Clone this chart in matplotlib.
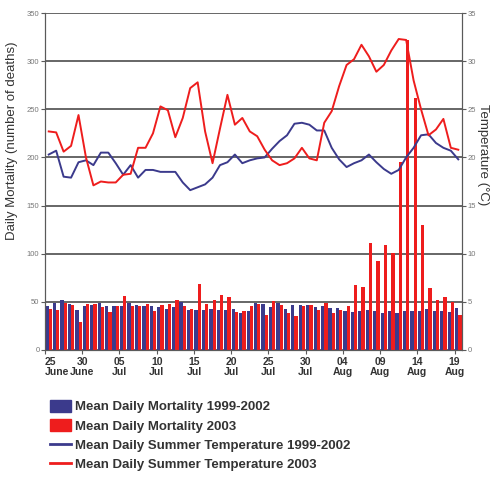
import numpy as np
import matplotlib
matplotlib.use("Agg")
from matplotlib import pyplot as plt
from matplotlib.patches import Patch
from matplotlib.lines import Line2D

plt.rcParams['font.family'] = ['Liberation Sans', 'DejaVu Sans']

# 25 June .. 19 August 2003, one value per day
mort_base = [46, 49, 52, 48, 42, 46, 47, 49, 46, 46,
             46, 49, 47, 46, 46, 45, 43, 45, 50, 42,
             42, 42, 43, 42, 42, 43, 38, 41, 49, 48,
             45, 49, 43, 47, 47, 47, 45, 46, 44, 44,
             40, 39, 41, 42, 40, 38, 40, 38, 40, 40,
             41, 43, 40, 41, 39, 44]
mort_2003 = [43, 42, 49, 47, 29, 48, 48, 45, 39, 46,
             56, 46, 46, 48, 41, 47, 48, 52, 46, 43,
             69, 48, 52, 57, 55, 39, 41, 46, 48, 36,
             51, 47, 38, 35, 46, 47, 42, 49, 38, 42,
             46, 67, 65, 111, 92, 109, 101, 195, 322, 262,
             130, 64, 52, 55, 50, 36]
temp_base = [20.3, 20.7, 18.0, 17.9, 19.5, 19.7, 19.2, 20.5, 20.5, 19.4,
             18.2, 19.2, 17.9, 18.7, 18.7, 18.5, 18.5, 18.5, 17.4, 16.6,
             16.9, 17.2, 17.9, 19.2, 19.5, 20.3, 19.4, 19.7, 19.9, 20.0,
             20.9, 21.7, 22.3, 23.5, 23.6, 23.4, 22.8, 22.8, 21.0, 19.8,
             19.0, 19.4, 19.7, 20.3, 19.5, 18.8, 18.3, 18.7, 20.0, 21.0,
             22.3, 22.4, 21.5, 21.0, 20.7, 19.8]
temp_2003 = [22.7, 22.6, 20.6, 21.2, 24.4, 20.0, 17.1, 17.5, 17.4, 17.4,
             18.2, 18.3, 21.0, 21.0, 22.5, 25.3, 24.9, 22.1, 24.1, 27.2,
             27.8, 22.7, 19.4, 23.0, 26.5, 23.4, 24.1, 22.7, 22.2, 20.8,
             19.7, 19.2, 19.4, 19.9, 21.0, 19.9, 19.7, 23.6, 24.8, 27.4,
             29.6, 30.2, 31.7, 30.5, 28.9, 29.6, 31.1, 32.3, 32.2, 28.0,
             25.0, 22.3, 22.9, 24.0, 21.0, 20.8]

tick_days = [0, 5, 10, 15, 20, 25, 30, 35, 40, 45, 50, 55]
tick_labels = ["25\nJune", "30\nJune", "05\nJul", "10\nJul", "15\nJul", "20\nJul",
               "25\nJul", "30\nJul", "04\nAug", "09\nAug", "14\nAug", "19\nAug"]

blue = "#3b3a8c"
red = "#ee1d1d"
grid_c = "#5a5a5a"
txt_c = "#333333"

days = np.arange(len(mort_base))

fig = plt.figure(figsize=(4.91, 4.80), dpi=100)
ax = fig.add_axes([45 / 491, 1 - 350 / 480, 417 / 491, 337 / 480])

ax.bar(days - 0.22, mort_base, width=0.44, color=blue, zorder=2)
ax.bar(days + 0.22, mort_2003, width=0.44, color=red, zorder=2)

ax.set_xlim(-0.5, 55.5)
ax.set_ylim(0, 350)
ax.set_yticks(range(0, 351, 50))
ax.yaxis.grid(True, color=grid_c, lw=1.3, zorder=1)
ax.set_axisbelow(True)
ax.set_xticks([d - 0.5 for d in tick_days])
ax.set_xticklabels(tick_labels, fontsize=7.5, color=txt_c, fontweight="bold",
                   linespacing=1.0)
ax.get_xticklabels()[0].set_horizontalalignment("left")
ax.tick_params(axis="x", length=3, color=grid_c, pad=2)
ax.tick_params(axis="y", labelsize=5.5, labelcolor="#777777", length=3,
               color=grid_c, pad=1)
ax.set_ylabel("Daily Mortality (number of deaths)", fontsize=9.5, color=txt_c)
ax.yaxis.set_label_coords(-0.065, 0.62)
for s in ax.spines.values():
    s.set_color(grid_c)
ax.spines["top"].set_visible(False)

ax2 = ax.twinx()
ax2.plot(days, temp_base, color=blue, lw=1.4, zorder=3)
ax2.plot(days, temp_2003, color=red, lw=1.4, zorder=3)
ax2.set_ylim(0, 35)
ax2.set_yticks(range(0, 36, 5))
ax2.tick_params(axis="y", labelsize=5.5, labelcolor="#777777", length=3,
                color=grid_c, pad=1)
ax2.set_ylabel("Temperature (\u00b0C)", fontsize=9.5, color=txt_c,
               rotation=270, va="center")
ax2.yaxis.set_label_coords(1.05, 0.58)
for s in ax2.spines.values():
    s.set_color(grid_c)
ax2.spines["top"].set_visible(False)

handles = [Patch(color=blue), Patch(color=red),
           Line2D([], [], color=blue, lw=2), Line2D([], [], color=red, lw=2)]
labels = ["Mean Daily Mortality 1999-2002", "Mean Daily Mortality 2003",
          "Mean Daily Summer Temperature 1999-2002",
          "Mean Daily Summer Temperature 2003"]
fig.legend(handles, labels, loc="upper left", bbox_to_anchor=(0.089, 0.181),
           frameon=False, prop={"size": 9.5, "weight": "bold"},
           handlelength=1.6, handleheight=1.0,
           handletextpad=0.3, labelspacing=0.45, borderpad=0,
           labelcolor=txt_c)

fig.savefig("out.png", dpi=100)
